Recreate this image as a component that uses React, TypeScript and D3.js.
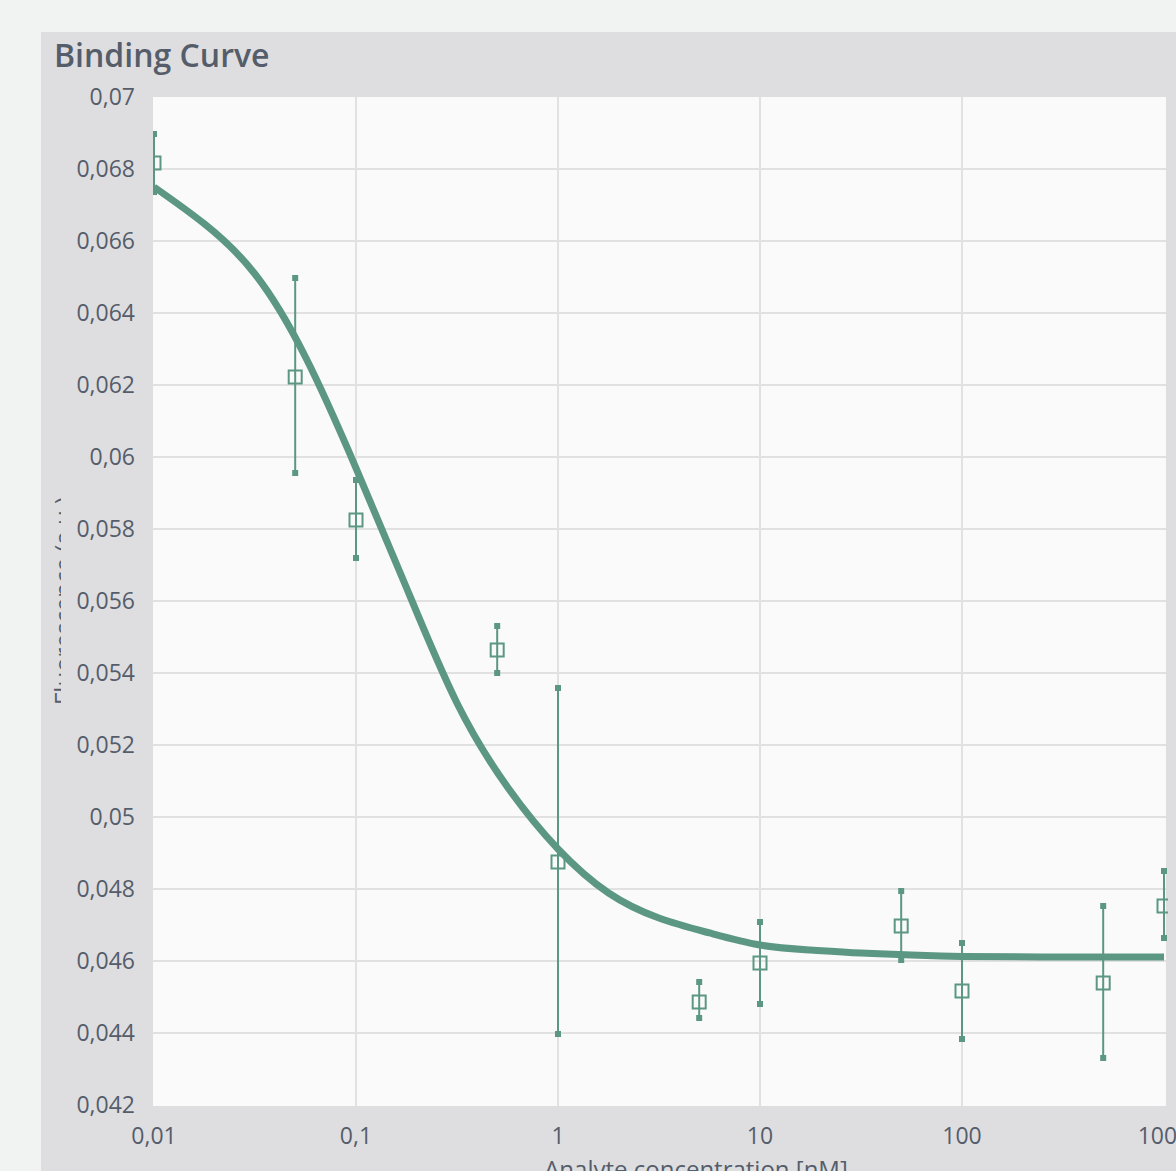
import React from "react";
import * as d3 from "d3";

const concentrations = [0.01, 0.05, 0.1, 0.5, 1, 5, 10, 50, 100, 500, 1000];
const meanValues = [0.068167, 0.062222, 0.05825, 0.054639, 0.04875, 0.044861, 0.045944, 0.046972, 0.045167, 0.045389, 0.047528];
const errUpper = [0.068972, 0.064972, 0.059361, 0.055306, 0.053583, 0.045417, 0.047083, 0.047944, 0.0465, 0.047528, 0.0485];
const errLower = [0.06736, 0.059556, 0.057194, 0.054, 0.043972, 0.044417, 0.044806, 0.046028, 0.043833, 0.043306, 0.046639];

const fitConc = [0.01, 0.0178, 0.0316, 0.0562, 0.1, 0.178, 0.316, 0.562, 1, 1.78, 3.16, 5.62, 10, 17.8, 31.6, 56.2, 100, 316, 1000];
const fitValues = [0.0675, 0.066472, 0.065083, 0.062778, 0.059694, 0.056361, 0.053167, 0.050833, 0.049111, 0.047889, 0.047194, 0.046778, 0.046444, 0.046306, 0.046222, 0.046167, 0.046125, 0.046111, 0.046111];

const yTicks = [0.042, 0.044, 0.046, 0.048, 0.05, 0.052, 0.054, 0.056, 0.058, 0.06, 0.062, 0.064, 0.066, 0.068, 0.07];
const xTicks = [0.01, 0.1, 1, 10, 100, 1000];
const xTickLabels = ["0,01", "0,1", "1", "10", "100", "1000"];

const title = "Binding Curve";
const xLabel = "Analyte concentration [nM]";
const yLabel = "Fluorescence (a.u.)";

const W = 1176;
const H = 1171;
const GREEN = "#5b9783";
const TEXT = "#555d6b";
const FONT = "'Open Sans', 'Noto Sans', sans-serif";

export default function App() {
  const plotL = 153, plotR = 1166, plotT = 97, plotB = 1106;
  const x = d3.scaleLog().domain([0.01, 1000]).range([154, 1164]);
  const y = d3.scaleLinear().domain([0.042, 0.07]).range([1105, 97]);

  const fitData = fitConc.map((c, i) => [c, fitValues[i]] as [number, number]);
  const line = d3
    .line<[number, number]>()
    .x((d) => x(d[0]))
    .y((d) => y(d[1]))
    .curve(d3.curveNatural);

  const fmtY = (v: number) => String(+v.toFixed(3)).replace(".", ",");

  return (
    <svg
      width={W}
      height={H}
      style={{ position: "fixed", left: 0, top: 0, display: "block" }}
      fontFamily={FONT}
    >
      <defs>
        <clipPath id="plotClip">
          <rect x={plotL} y={plotT - 40} width={plotR - plotL + 2} height={plotB - plotT + 40} />
        </clipPath>
        <clipPath id="ylabClip">
          <rect x={0} y={0} width={61} height={H} />
        </clipPath>
      </defs>
      <rect x={0} y={0} width={W} height={H} fill="#f1f2f2" />
      <rect x={41} y={32} width={W} height={H} fill="#dedee0" />
      <text x={54} y={67} fontSize={32} fontWeight={600} fill={TEXT}>
        {title}
      </text>
      <rect x={plotL} y={plotT} width={plotR - plotL} height={plotB - plotT} fill="#fafafa" />
      {yTicks.slice(1, -1).map((t) => (
        <line key={"gy" + t} x1={plotL} x2={plotR} y1={y(t)} y2={y(t)} stroke="#e1e1e1" strokeWidth={2} />
      ))}
      {xTicks.slice(1, -1).map((t) => (
        <line key={"gx" + t} x1={x(t)} x2={x(t)} y1={plotT} y2={plotB} stroke="#e1e1e1" strokeWidth={2} />
      ))}
      {yTicks.map((t) => (
        <text key={"ty" + t} x={135} y={y(t) + 8} fontSize={23} textAnchor="end" fill={TEXT}>
          {fmtY(t)}
        </text>
      ))}
      {xTicks.map((t, i) => (
        <text key={"tx" + t} x={x(t)} y={1144} fontSize={23} textAnchor="middle" fill={TEXT}>
          {xTickLabels[i]}
        </text>
      ))}
      <g clipPath="url(#ylabClip)">
        <text
          transform={`translate(72,601) rotate(-90)`}
          fontSize={24}
          textAnchor="middle"
          fill={TEXT}
        >
          {yLabel}
        </text>
      </g>
      <text x={696} y={1178} fontSize={24} textAnchor="middle" fill={TEXT}>
        {xLabel}
      </text>
      <g clipPath="url(#plotClip)">
        {concentrations.map((c, i) => (
          <g key={"eb" + c}>
            <line x1={x(c)} x2={x(c)} y1={y(errUpper[i])} y2={y(errLower[i])} stroke={GREEN} strokeWidth={2} />
            <rect x={x(c) - 3} y={y(errUpper[i]) - 3} width={6} height={6} fill={GREEN} />
            <rect x={x(c) - 3} y={y(errLower[i]) - 3} width={6} height={6} fill={GREEN} />
          </g>
        ))}
        <path d={line(fitData) || ""} fill="none" stroke={GREEN} strokeWidth={7} strokeLinejoin="round" />
        {concentrations.map((c, i) => (
          <rect
            key={"m" + c}
            x={x(c) - 6.5}
            y={y(meanValues[i]) - 6.5}
            width={13}
            height={13}
            fill="none"
            stroke={GREEN}
            strokeWidth={2}
          />
        ))}
      </g>
    </svg>
  );
}
